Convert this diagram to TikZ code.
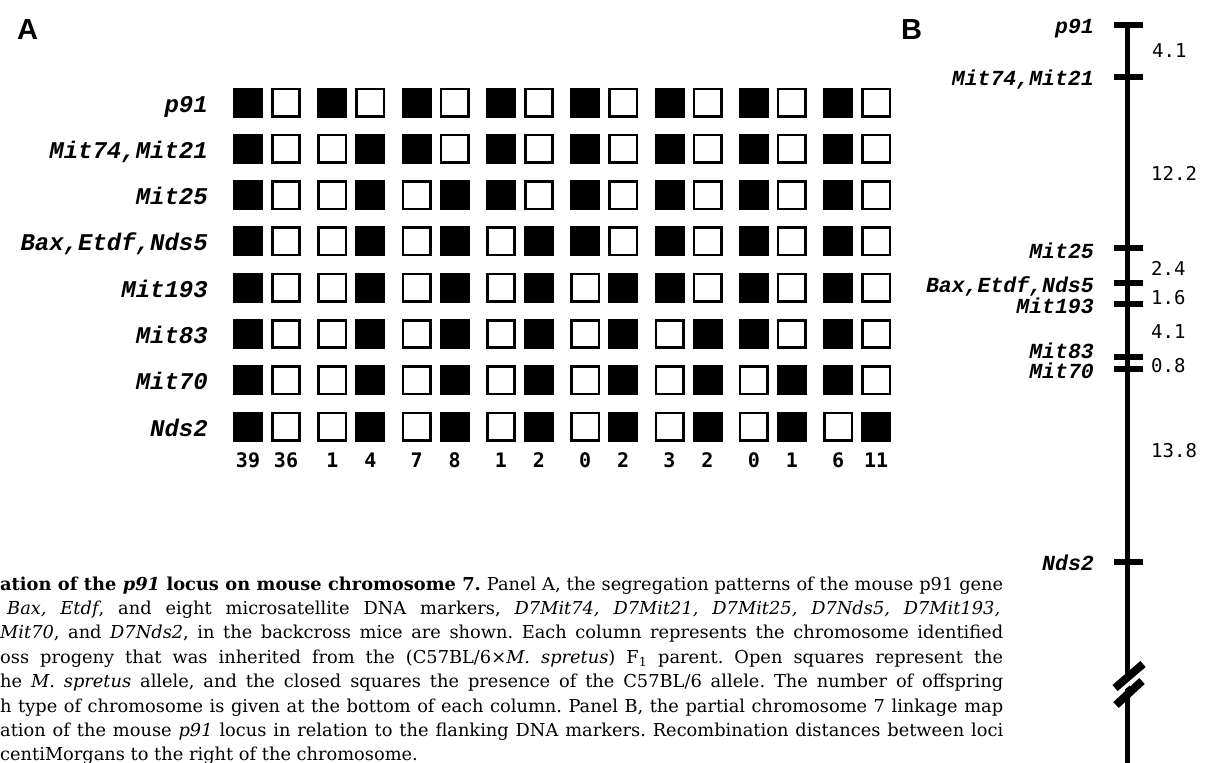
\documentclass[tikz,border=0pt]{standalone}
\usepackage{fontspec}
\setmainfont{DejaVu Serif}
\newfontfamily\labfont{Liberation Mono}
\newfontfamily\numfont{DejaVu Sans Mono}
\newfontfamily\panfont{Liberation Sans}
\begin{document}
\frenchspacing
\begin{tikzpicture}[x=1pt,y=-1pt,
  sq1/.style={fill=black, draw=none, minimum size=30pt, inner sep=0pt, outer sep=0pt},
  sq0/.style={fill=white, draw=black, line width=2.6pt, minimum size=27.4pt, inner sep=0pt, outer sep=0pt},
  labA/.style={anchor=base east, inner sep=0pt, font=\labfont\bfseries\itshape\fontsize{24}{28}\selectfont},
  labB/.style={anchor=base east, inner sep=0pt, font=\labfont\bfseries\itshape\fontsize{21.5}{25}\selectfont},
  cnt/.style={anchor=base, inner sep=0pt, font=\numfont\bfseries\fontsize{20}{24}\selectfont},
  dist/.style={anchor=base west, inner sep=0pt, font=\numfont\fontsize{19}{22}\selectfont},
  panel/.style={anchor=base west, inner sep=0pt, font=\panfont\bfseries\fontsize{29}{32}\selectfont},
  capline/.style={anchor=base west, inner sep=0pt, font=\fontsize{17.8}{24}\selectfont},
  chrom/.style={line width=5.5pt, line cap=butt},
  tickmark/.style={line width=6pt, line cap=butt},
  brk/.style={line width=8pt, line cap=butt}
]
\useasboundingbox (0,0) rectangle (1205,763);
\fill[white] (0,0) rectangle (1205,763);

% panel letters
\node[panel] (pa) at (17,39) {A};
\node[panel] (pb) at (901,39) {B};

% ---------- Panel A: squares ----------
\foreach \r/\pat in {
  1/{1,0,1,0,1,0,1,0,1,0,1,0,1,0,1,0},
  2/{1,0,0,1,1,0,1,0,1,0,1,0,1,0,1,0},
  3/{1,0,0,1,0,1,1,0,1,0,1,0,1,0,1,0},
  4/{1,0,0,1,0,1,0,1,1,0,1,0,1,0,1,0},
  5/{1,0,0,1,0,1,0,1,0,1,1,0,1,0,1,0},
  6/{1,0,0,1,0,1,0,1,0,1,0,1,1,0,1,0},
  7/{1,0,0,1,0,1,0,1,0,1,0,1,0,1,1,0},
  8/{1,0,0,1,0,1,0,1,0,1,0,1,0,1,0,1}}{
  \foreach \v [count=\c] in \pat {
    \pgfmathsetmacro\xc{248+84.3*floor((\c-1)/2)+38*mod(\c-1,2)}
    \pgfmathsetmacro\yc{102.5+46.3*(\r-1)}
    \node[sq\v] (s\r-\c) at (\xc,\yc) {};
  }
}

% counts
\foreach \n [count=\c] in {39,36,1,4,7,8,1,2,0,2,3,2,0,1,6,11}{
  \pgfmathsetmacro\xc{248+84.3*floor((\c-1)/2)+38*mod(\c-1,2)}
  \node[cnt] (n\c) at (\xc,467) {\n};
}

% row labels
\foreach \t [count=\r] in {{p91},{Mit74,Mit21},{Mit25},{Bax,Etdf,Nds5},{Mit193},{Mit83},{Mit70},{Nds2}}{
  \pgfmathsetmacro\yb{102.5+46.3*(\r-1)+9.5}
  \node[labA] (la\r) at (208,\yb) {\t};
}

% ---------- Panel B: linkage map ----------
\coordinate (ctop) at (1127.5,25);
\coordinate (cbot) at (1127.5,763);
\draw[chrom] (ctop) -- (cbot);
\foreach \y in {25,76.7,248.3,283.3,304,356.7,369.3,561.7}{
  \draw[tickmark] (1114,\y) -- (1143,\y);
}
% break symbol
\draw[white, line width=5pt] (1110,698) -- (1146,669);
\draw[brk] (1115,688) -- (1143,664);
\draw[brk] (1116,705) -- (1142,681);

\node[labB] (lb1) at (1094,33) {p91};
\node[labB] (lb2) at (1094,85) {Mit74,Mit21};
\node[labB] (lb3) at (1094,258) {Mit25};
\node[labB] (lb4) at (1094,292) {Bax,Etdf,Nds5};
\node[labB] (lb5) at (1094,313) {Mit193};
\node[labB] (lb6) at (1094,358) {Mit83};
\node[labB] (lb7) at (1094,378) {Mit70};
\node[labB] (lb8) at (1094,570) {Nds2};

\node[dist] (d1) at (1152,57) {4.1};
\node[dist] (d2) at (1151,180) {12.2};
\node[dist] (d3) at (1151,275) {2.4};
\node[dist] (d4) at (1151,304) {1.6};
\node[dist] (d5) at (1151,338) {4.1};
\node[dist] (d6) at (1151,372) {0.8};
\node[dist] (d7) at (1151,457) {13.8};

% ---------- Caption ----------
\node[capline] (c1) at (0,590) {\makebox[1003pt][s]{\textbf{ation of the \textit{p91} locus on mouse chromosome 7.} Panel A, the segregation patterns of the mouse p91 gene}};
\node[capline] (c2) at (7,614) {\makebox[993pt][s]{\textit{Bax, Etdf}, and eight microsatellite DNA markers, \textit{D7Mit74, D7Mit21, D7Mit25, D7Nds5, D7Mit193,}}};
\node[capline] (c3) at (0,638) {\makebox[1003pt][s]{\textit{Mit70}, and \textit{D7Nds2}, in the backcross mice are shown. Each column represents the chromosome identified}};
\node[capline] (c4) at (0,663) {\makebox[1003pt][s]{oss progeny that was inherited from the (C57BL/6×\textit{M. spretus}) F\textsubscript{1} parent. Open squares represent the}};
\node[capline] (c5) at (0,687) {\makebox[1003pt][s]{he \textit{M. spretus} allele, and the closed squares the presence of the C57BL/6 allele. The number of offspring}};
\node[capline] (c6) at (0,712) {\makebox[1003pt][s]{h type of chromosome is given at the bottom of each column. Panel B, the partial chromosome 7 linkage map}};
\node[capline] (c7) at (0,736) {\makebox[1003pt][s]{ation of the mouse \textit{p91} locus in relation to the flanking DNA markers. Recombination distances between loci}};
\node[capline] (c8) at (0,760) {centiMorgans to the right of the chromosome.};
\end{tikzpicture}
\end{document}
